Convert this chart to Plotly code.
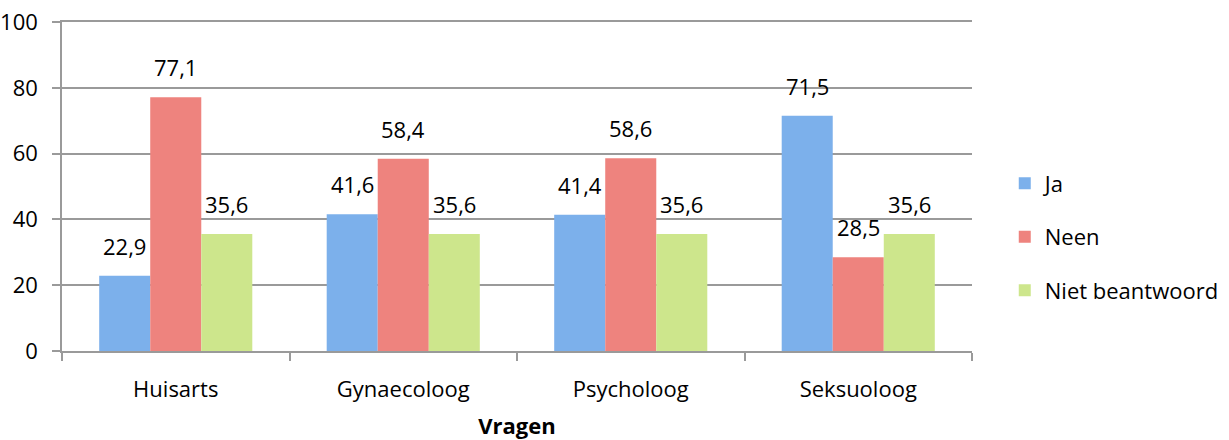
import plotly.graph_objects as go

categories = ["Huisarts", "Gynaecoloog", "Psycholoog", "Seksuoloog"]
series_names = ["Ja", "Neen", "Niet beantwoord"]
ja = [22.9, 41.6, 41.4, 71.5]
neen = [77.1, 58.4, 58.6, 28.5]
niet = [35.6, 35.6, 35.6, 35.6]
y_ticks = [0, 20, 40, 60, 80, 100]

colors = ["#7cb0eb", "#ee837e", "#cde68c"]
FONT = "Open Sans"
FS = 22
AXIS_COLOR = "#9a9a9a"

fig = go.Figure()
for i, (name, vals) in enumerate(zip(series_names, [ja, neen, niet])):
    fig.add_trace(go.Bar(
        x=categories, y=vals, name=name, legendgroup=name,
        marker=dict(color=colors[i], line=dict(width=0)),
    ))

# data labels above bars
bar_px = 910 / 4 * (1 - 0.327) / 3
for i, vals in enumerate([ja, neen, niet]):
    for c, v in zip(categories, vals):
        fig.add_annotation(
            x=c, y=v, xref="x", yref="y",
            text=f"{v:.1f}".replace(".", ","),
            showarrow=False, yanchor="bottom", xanchor="center",
            xshift=(i - 1) * bar_px, yshift=13,
            font=dict(family=FONT, size=FS, color="#000000"),
        )

fig.update_layout(
    width=1229, height=440,
    barmode="group", bargap=0.327, bargroupgap=0,
    plot_bgcolor="white", paper_bgcolor="white",
    margin=dict(l=62, r=257, t=22, b=89, autoexpand=False),
    font=dict(family=FONT, size=FS, color="#000000"),
    legend=dict(
        x=1.036, xanchor="left", y=0.347, yanchor="middle",
        font=dict(family=FONT, size=FS),
        tracegroupgap=22, bgcolor="rgba(0,0,0,0)",
    ),
    xaxis=dict(
        showline=True, mirror=True, linecolor=AXIS_COLOR, linewidth=1.5,
        ticks="outside", tickson="boundaries", ticklen=8, tickcolor=AXIS_COLOR, tickwidth=1.5,
        ticklabelstandoff=18,
        title=dict(text="<b>Vragen</b>", standoff=17, font=dict(family=FONT, size=FS)),
    ),
    yaxis=dict(
        range=[0, 100], tickvals=y_ticks,
        showline=True, linecolor=AXIS_COLOR, linewidth=1.5,
        showgrid=True, gridcolor=AXIS_COLOR, gridwidth=1.5,
        ticks="outside", ticklen=8, tickcolor=AXIS_COLOR, tickwidth=1.5,
        ticklabelstandoff=10, zeroline=False,
    ),
    showlegend=True,
)

# remove the browser's default 8px body margin so the figure sits at the page corner
fig.write_html("out.html", config={"displayModeBar": False},
               post_script="document.body.style.margin='0';")
